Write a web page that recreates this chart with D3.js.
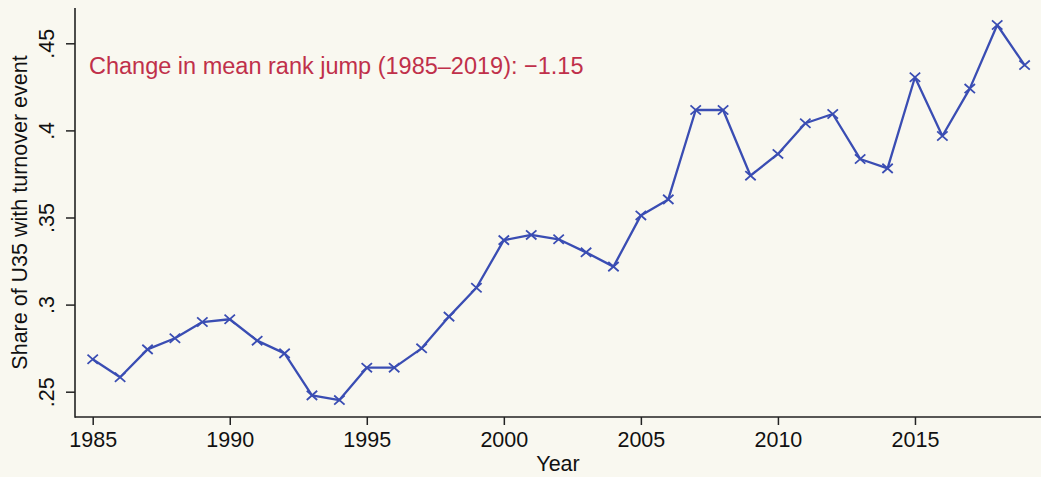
<!DOCTYPE html>
<html>
<head>
<meta charset="utf-8">
<script src="https://cdn.jsdelivr.net/npm/d3@7"></script>
<style>
  html, body { margin: 0; padding: 0; background: #f9f8f0; }
  svg { display: block; }
  text { font-family: "Liberation Sans", Arial, Helvetica, sans-serif; }
</style>
</head>
<body>
<svg id="chart" width="1041" height="477"></svg>
<script>
// Share of under-35s with a turnover event, by year
const years = [1985, 1986, 1987, 1988, 1989, 1990, 1991, 1992, 1993, 1994,
               1995, 1996, 1997, 1998, 1999, 2000, 2001, 2002, 2003, 2004,
               2005, 2006, 2007, 2008, 2009, 2010, 2011, 2012, 2013, 2014,
               2015, 2016, 2017, 2018, 2019];
const shareU35 = [0.2686, 0.2583, 0.2743, 0.2807, 0.2900, 0.2916, 0.2793, 0.2720, 0.2479, 0.2452,
                  0.2638, 0.2638, 0.2749, 0.2931, 0.3097, 0.3370, 0.3400, 0.3375, 0.3300, 0.3218,
                  0.3512, 0.3604, 0.4117, 0.4117, 0.3740, 0.3865, 0.4041, 0.4094, 0.3836, 0.3782,
                  0.4305, 0.3968, 0.4240, 0.4605, 0.4375];
const xTicks = [1985, 1990, 1995, 2000, 2005, 2010, 2015];
const yTicks = [0.25, 0.30, 0.35, 0.40, 0.45];
const yTickLabels = [".25", ".3", ".35", ".4", ".45"];
const note = "Change in mean rank jump (1985\u20132019): \u22121.15";
const xTitle = "Year";
const yTitle = "Share of U35 with turnover event";

const svg = d3.select("#chart");
const W = 1041, H = 477;

// plot frame
const frame = { left: 75, right: 1041, top: 8, bottom: 417 };

const x = d3.scaleLinear().domain([1985, 2019]).range([92.7, 1024.6]);
const y = d3.scaleLinear().domain([0.25, 0.45]).range([391.7, 43.3]);

svg.append("rect").attr("width", W).attr("height", H).attr("fill", "#f9f8f0");

const axisColor = "#222";
const tickFont = 21.5;

// x axis
const gx = svg.append("g")
  .attr("transform", `translate(0,${frame.bottom})`)
  .call(d3.axisBottom(x).tickValues(xTicks).tickFormat(d3.format("d"))
    .tickSize(8).tickPadding(7).tickSizeOuter(0));
gx.select(".domain").remove();
gx.selectAll(".tick line").attr("stroke", axisColor).attr("stroke-width", 1.5);
gx.selectAll(".tick text").attr("font-size", tickFont).attr("fill", "#111")
  .attr("font-family", "Liberation Sans, Arial, sans-serif");
gx.append("line").attr("x1", frame.left).attr("x2", frame.right)
  .attr("y1", 0).attr("y2", 0).attr("stroke", axisColor).attr("stroke-width", 1.6);

// y axis with rotated labels
const gy = svg.append("g")
  .attr("transform", `translate(${frame.left},0)`)
  .call(d3.axisLeft(y).tickValues(yTicks).tickFormat((d, i) => yTickLabels[i])
    .tickSize(9).tickSizeOuter(0));
gy.select(".domain").remove();
gy.selectAll(".tick line").attr("stroke", axisColor).attr("stroke-width", 1.5);
gy.selectAll(".tick text")
  .attr("font-size", tickFont).attr("fill", "#111")
  .attr("font-family", "Liberation Sans, Arial, sans-serif")
  .attr("text-anchor", "middle")
  .attr("dy", null)
  .attr("x", null)
  .attr("transform", "translate(-21,0) rotate(-90)");
gy.append("line").attr("x1", 0).attr("x2", 0)
  .attr("y1", frame.top).attr("y2", frame.bottom + 0.8)
  .attr("stroke", axisColor).attr("stroke-width", 1.6);

// axis titles
svg.append("text")
  .attr("x", (frame.left + frame.right) / 2).attr("y", 471)
  .attr("text-anchor", "middle").attr("font-size", tickFont).attr("fill", "#111")
  .text(xTitle);
svg.append("text")
  .attr("transform", `translate(27,${(frame.top + frame.bottom) / 2}) rotate(-90)`)
  .attr("text-anchor", "middle").attr("font-size", tickFont).attr("fill", "#111")
  .text(yTitle);

// annotation
svg.append("text")
  .attr("x", 89).attr("y", 74)
  .attr("font-size", 23.5).attr("fill", "#c0304a")
  .text(note);

// series line
const pts = years.map((yr, i) => ({ yr, v: shareU35[i] }));
const lineColor = "#3a4db3";
svg.append("path")
  .datum(pts)
  .attr("fill", "none").attr("stroke", lineColor).attr("stroke-width", 2.3)
  .attr("stroke-linejoin", "round")
  .attr("d", d3.line().x(d => x(d.yr)).y(d => y(d.v)));

// X markers
const mx = 5.2, my = 4.6;
svg.append("g").selectAll("path.mk")
  .data(pts).join("path")
  .attr("class", "mk")
  .attr("fill", "none").attr("stroke", lineColor).attr("stroke-width", 1.8)
  .attr("d", d => {
    const cx = x(d.yr), cy = y(d.v);
    return `M${cx - mx},${cy - my}L${cx + mx},${cy + my}M${cx - mx},${cy + my}L${cx + mx},${cy - my}`;
  });
</script>
</body>
</html>
